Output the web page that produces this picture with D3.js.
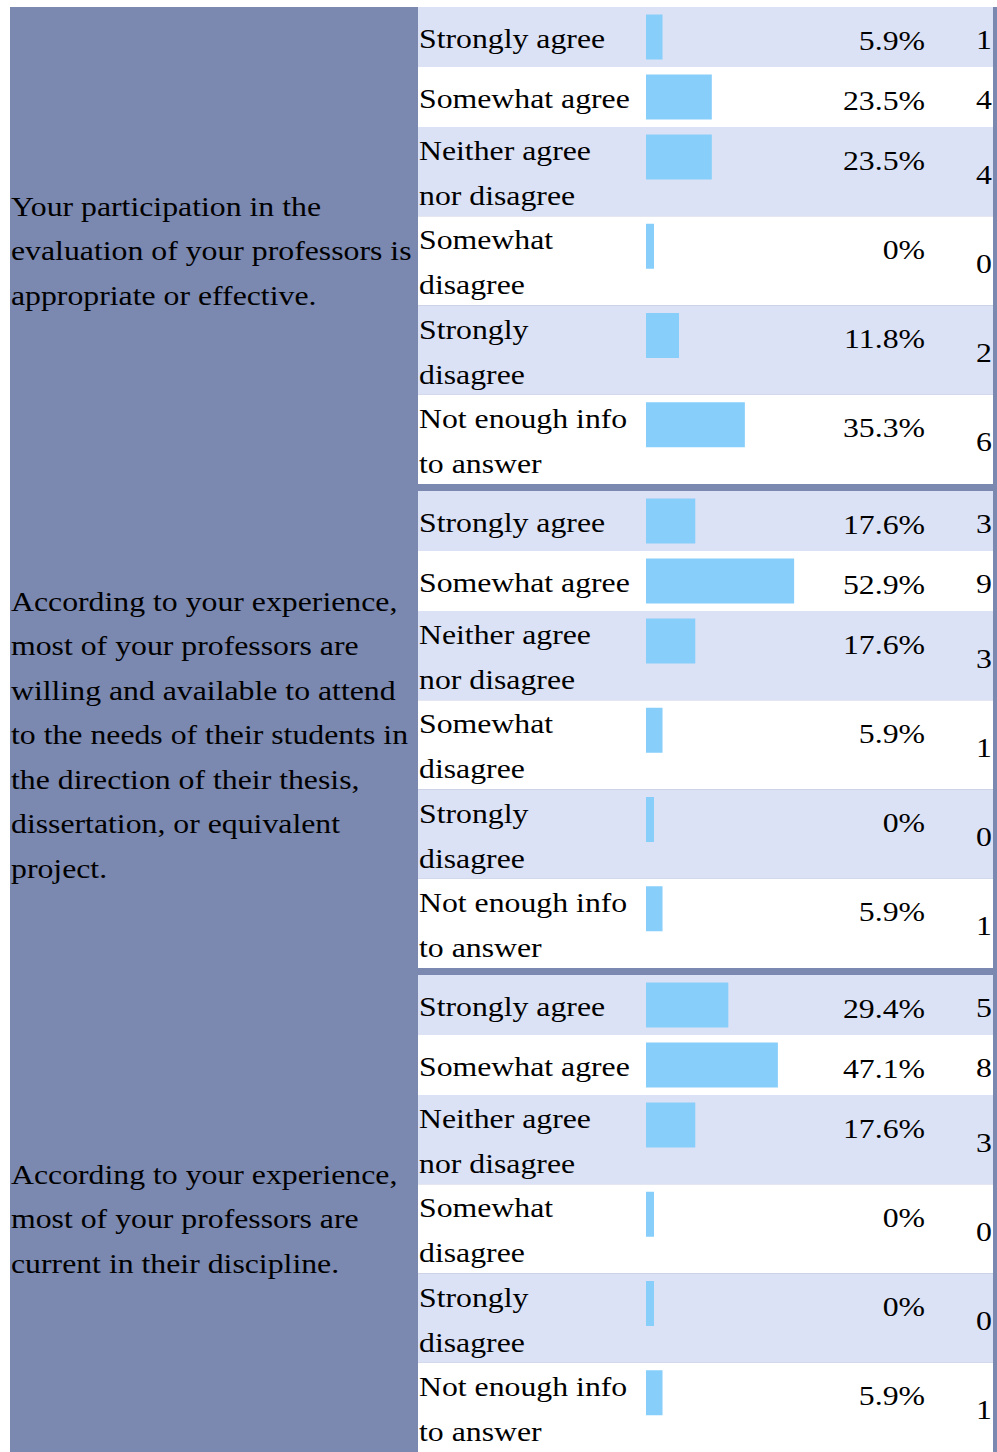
<!DOCTYPE html>
<html>
<head>
<meta charset="utf-8">
<script src="https://cdn.jsdelivr.net/npm/d3@7"></script>
<style>
  html, body { margin: 0; padding: 0; background: #fff; }
  svg { display: block; }
  text { font-family: "Liberation Serif", "Times New Roman", serif; font-size: 28px; fill: #000; }
</style>
</head>
<body>
<svg id="chart" width="997" height="1452"></svg>
<script>
// ---- data ----
const questions = [
  ["Your participation in the", "evaluation of your professors is", "appropriate or effective."],
  ["According to your experience,", "most of your professors are", "willing and available to attend",
   "to the needs of their students in", "the direction of their thesis,", "dissertation, or equivalent", "project."],
  ["According to your experience,", "most of your professors are", "current in their discipline."]
];
const answers = [
  ["Strongly agree"], ["Somewhat agree"], ["Neither agree", "nor disagree"],
  ["Somewhat", "disagree"], ["Strongly", "disagree"], ["Not enough info", "to answer"]
];
const percents1 = [5.9, 23.5, 23.5, 0, 11.8, 35.3];
const counts1   = [1, 4, 4, 0, 2, 6];
const percents2 = [17.6, 52.9, 17.6, 5.9, 0, 5.9];
const counts2   = [3, 9, 3, 1, 0, 1];
const percents3 = [29.4, 47.1, 17.6, 0, 0, 5.9];
const counts3   = [5, 8, 3, 0, 0, 1];

const percents = [percents1, percents2, percents3];
const counts = [counts1, counts2, counts3];

// ---- layout ----
const W = 997, H = 1452;
const top0 = 7, gap = 7, leftX = 10, splitX = 418, innerRight = 993, outerRight = 997;
const rowPad = 7.5, barH = 45, lineH = 44.625, qLineH = 44.5;
const sx = 1.135;
const purple = "#7b88b0", light = "#dce2f5", barColor = "#87cefa";

const x = d3.scaleLinear().domain([0, 100]).range([0, 280]);
const barX0 = 646, minBar = 8;

const svg = d3.select("#chart");
svg.append("rect").attr("x", leftX).attr("y", top0)
  .attr("width", outerRight - leftX).attr("height", H - top0).attr("fill", purple);

function txt(g, s, tx, ty, anchor) {
  g.append("text").attr("transform", `translate(${tx},${ty}) scale(${sx},1)`)
    .attr("text-anchor", anchor || "start").text(s);
}

let y = top0;
questions.forEach((q, gi) => {
  const gTop = y;
  const g = svg.append("g");
  answers.forEach((lines, ri) => {
    const rh = Math.max(barH + 2 * rowPad, lines.length * lineH);
    g.append("rect").attr("x", splitX).attr("y", y).attr("width", innerRight - splitX)
      .attr("height", rh).attr("fill", ri % 2 === 0 ? light : "#ffffff");
    const cy = y + rh / 2;
    lines.forEach((l, li) => {
      txt(g, l, splitX + 1, cy + 11 + (li - (lines.length - 1) / 2) * 45);
    });
    const v = percents[gi][ri];
    g.append("rect").attr("x", barX0).attr("y", y + rowPad)
      .attr("width", Math.max(minBar, x(v))).attr("height", barH).attr("fill", barColor);
    txt(g, v + "%", 925, y + rowPad + 35, "end");
    txt(g, String(counts[gi][ri]), 992, cy + 12, "end");
    y += rh;
  });
  const gBottom = y;
  const gc = (gTop + gBottom) / 2;
  q.forEach((l, li) => {
    txt(g, l, leftX + 1, gc + 14.5 + (li - (q.length - 1) / 2) * qLineH);
  });
  y += gap;
});
</script>
</body>
</html>
